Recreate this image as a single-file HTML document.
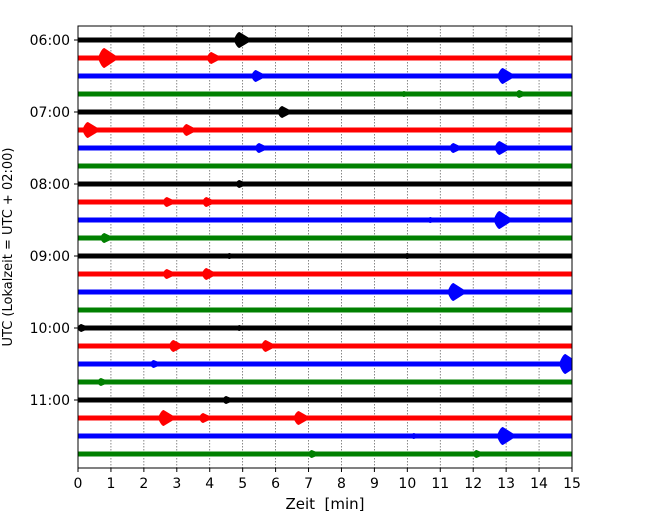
<!DOCTYPE html>
<html><head><meta charset="utf-8"><style>
html,body{margin:0;padding:0;background:#fff;}
svg{display:block;font-family:"DejaVu Sans","Liberation Sans",sans-serif;}
</style></head><body>
<svg id="chart" width="650" height="520" viewBox="0 0 650 520">
<defs><clipPath id="pc"><rect x="78" y="26" width="494" height="442"/></clipPath></defs>
<g id="grid"></g>
<g id="traces" clip-path="url(#pc)"></g>
<rect x="78" y="26" width="494" height="442" fill="none" stroke="#000" stroke-width="1"/>
<g id="xaxis"></g>
<g id="yaxis"></g>
<text x="325" y="509" text-anchor="middle" font-size="15" xml:space="preserve" style="white-space:pre">Zeit  [min]</text>
<text transform="translate(12,247) rotate(-90)" text-anchor="middle" font-size="13">UTC (Lokalzeit = UTC + 02:00)</text>
</svg>
<script>
const xTicks=[0,1,2,3,4,5,6,7,8,9,10,11,12,13,14,15];
const hourLabels=["06:00","07:00","08:00","09:00","10:00","11:00"];
const traceCount=24;
const traceColors=["#000000","#ff0000","#0000ff","#008000"];
const noiseLevel=[2.5,2.5,2.5,2.5,2.5,2.5,2.5,2.5,2.5,2.5,2.5,2.5,2.5,2.5,2.5,2.5,2.5,2.5,2.5,2.5,2.5,2.5,2.5,2.5];
// events: trace index, time (min), amplitude (half-height px)
const evTrace=[0,1,1,2,2,3,3,4,5,5,6,6,6,8,9,9,10,10,11,12,12,13,13,14,16,16,17,17,18,18,19,20,21,21,21,22,22,23,23];
const evTime=[4.9,0.8,4.05,5.4,12.9,13.4,9.9,6.2,0.3,3.3,5.5,11.4,12.8,4.9,2.7,3.9,12.8,10.7,0.8,4.6,10.0,2.7,3.9,11.4,0.1,4.9,2.9,5.7,14.8,2.3,0.7,4.5,2.6,3.8,6.7,12.9,10.2,7.1,12.1];
const evAmp=[8,10,6,6,8,4,3,6,8,6,5,5,7,4,5,5,9,3,5,3,3,5,6,9,4,3,6,6,10,4,4,4,8,5,7,9,3,4,4];

const NS="http://www.w3.org/2000/svg";
const X0=78,X1=572,Y0=26,Y1=468;
const xs=v=>X0+(v-xTicks[0])/(xTicks[xTicks.length-1]-xTicks[0])*(X1-X0);
const ty=i=>40+i*18;
function mk(tag,attrs,parent){const e=document.createElementNS(NS,tag);for(const k in attrs)e.setAttribute(k,attrs[k]);parent.appendChild(e);return e;}
const grid=document.getElementById('grid'),tr=document.getElementById('traces'),xa=document.getElementById('xaxis'),ya=document.getElementById('yaxis');
xTicks.forEach(t=>{
  const x=xs(t);
  if(t>xTicks[0]&&t<xTicks[xTicks.length-1]){
    const g=mk('line',{x1:x,x2:x,y1:Y0,y2:Y1,stroke:'#555','stroke-width':0.7,'stroke-dasharray':'1.5,1.5'},grid);
    
    
  }
  const tk=mk('line',{x1:x,x2:x,y1:Y1,y2:Y1+4,stroke:'#000'},xa);
  
  
  const tl=mk('text',{x:x,y:Y1+20,'text-anchor':'middle','font-size':14},xa);
  tl.textContent=t;
  
  
});
hourLabels.forEach((h,k)=>{
  const y=ty(k*4);
  const tk=mk('line',{x1:X0-4,x2:X0,y1:y,y2:y,stroke:'#000'},ya);
  
  
  const tl=mk('text',{x:X0-8,y:y+5,'text-anchor':'end','font-size':14},ya);
  tl.textContent=h;
  
  
});
for(let i=0;i<traceCount;i++){
  const y=ty(i),c=traceColors[i%4],n=noiseLevel[i];
  const b=mk('rect',{x:X0,y:y-n,width:X1-X0,height:2*n,fill:c},tr);
  
  
}
evTime.forEach((t,j)=>{
  const i=evTrace[j],y=ty(i),c=traceColors[i%4],a=evAmp[j];
  const x=xs(t),r=3+a*0.35,f=6+a*0.9;
  const d=`M${x-r},${y} Q${x-r*0.4},${y-a} ${x},${y-a} Q${x+f*0.4},${y-a*0.6} ${x+f},${y} Q${x+f*0.4},${y+a*0.6} ${x},${y+a} Q${x-r*0.4},${y+a} ${x-r},${y} Z`;
  const p=mk('path',{d:d,fill:c},tr);
  
  
});
</script>
</body></html>
